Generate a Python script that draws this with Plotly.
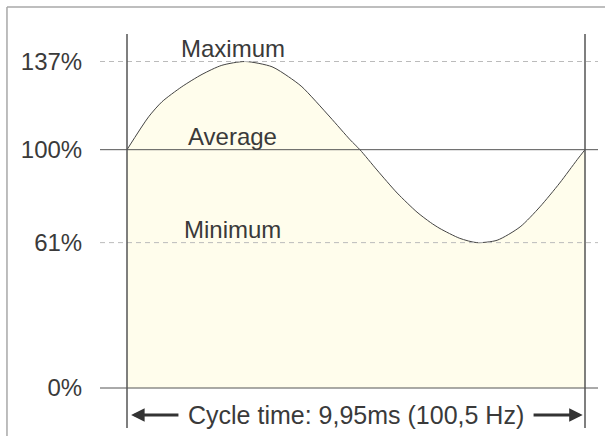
import plotly.graph_objects as go

# ---- data ----
CYCLE_MS = 9.95
time_ms = [0, 0.47, 0.76, 1.19, 1.63, 2.06, 2.57, 3.15, 3.51, 3.80, 4.41, 4.85,
           5.06, 5.43, 5.87, 6.30, 6.59, 6.80, 7.23, 7.60, 8.04, 8.54, 8.97, 9.40, 9.78, 9.95]
level_pct = [100, 113.8, 120.1, 126.4, 131.6, 135.4, 137, 134.8, 130.6, 126.4, 113.7,
             104.1, 100, 91.5, 81.8, 73.8, 69.5, 66.9, 62.8, 61, 62.0, 67.6, 76.0, 86.0,
             95.8, 100]
tick_values = [0, 61, 100, 137]
tick_labels = ["0%", "61%", "100%", "137%"]
dashed_levels = [137, 61]
solid_levels = [100, 0]
level_names = ["Maximum", "Average", "Minimum"]
level_name_values = [137, 100, 61]
cycle_text = "Cycle time: 9,95ms (100,5 Hz)"

FONT = "Liberation Sans, Arial, sans-serif"
TXT = "#3a3a3a"
DARK = "#555555"

fig = go.Figure()
fig.add_trace(go.Scatter(
    x=time_ms, y=level_pct, mode="lines",
    line=dict(color="#444444", width=1, shape="spline", smoothing=0.7),
    fill="tozeroy", fillcolor="#FFFDEC", hoverinfo="skip", showlegend=False))

shapes = []
for v in dashed_levels:
    shapes.append(dict(type="line", xref="paper", x0=0, x1=1, yref="y", y0=v, y1=v,
                       line=dict(color="#bbbbbb", width=1, dash="5px,4px"), layer="above"))
for v in solid_levels:
    shapes.append(dict(type="line", xref="paper", x0=0, x1=1, yref="y", y0=v, y1=v,
                       line=dict(color=DARK, width=1), layer="above"))
for xv in [0, CYCLE_MS]:
    shapes.append(dict(type="line", xref="x", x0=xv, x1=xv, yref="paper", y0=0, y1=1,
                       line=dict(color=DARK, width=1.5), layer="above"))
# outer frame (top and left edges)
shapes.append(dict(type="line", xref="paper", yref="paper", x0=-0.1868, x1=1.03, y0=1.0685, y1=1.0685,
                   line=dict(color="#a8a8a8", width=1.5)))
shapes.append(dict(type="line", xref="paper", yref="paper", x0=-0.1868, x1=-0.1868, y0=1.0685, y1=-0.05,
                   line=dict(color="#a8a8a8", width=1.5)))

annotations = []
for name, v in zip(level_names, level_name_values):
    annotations.append(dict(x=2.30, y=v, xref="x", yref="y", text=name, showarrow=False,
                            yanchor="bottom", xanchor="center", yshift=-2,
                            font=dict(family=FONT, size=24, color=TXT)))
Y_ARROW = -11.3
annotations.append(dict(x=CYCLE_MS / 2, y=Y_ARROW, xref="x", yref="y", text=cycle_text,
                        showarrow=False, font=dict(family=FONT, size=25, color=TXT)))
annotations.append(dict(x=0.09, y=Y_ARROW, ax=1.15, ay=Y_ARROW, xref="x", yref="y",
                        axref="x", ayref="y", text="", showarrow=True, arrowhead=2,
                        arrowsize=0.9, arrowwidth=3, arrowcolor="#333333"))
annotations.append(dict(x=CYCLE_MS - 0.05, y=Y_ARROW, ax=8.80, ay=Y_ARROW, xref="x", yref="y",
                        axref="x", ayref="y", text="", showarrow=True, arrowhead=2,
                        arrowsize=0.9, arrowwidth=3, arrowcolor="#333333"))

fig.update_layout(
    width=605, height=436,
    margin=dict(l=100, r=7, t=34, b=8),
    paper_bgcolor="white", plot_bgcolor="white",
    shapes=shapes, annotations=annotations,
    xaxis=dict(range=[-0.5866, 10.2324], visible=False, fixedrange=True),
    yaxis=dict(range=[-16.78, 148.54], tickvals=tick_values, ticktext=tick_labels,
               showgrid=False, zeroline=False, showline=False,
               ticks="outside", ticklen=12, tickcolor="rgba(0,0,0,0)",
               tickfont=dict(family=FONT, size=24, color=TXT), fixedrange=True),
    showlegend=False,
)

fig.write_html("out.html", config={"displayModeBar": False},
               post_script="document.body.style.margin='0';")
